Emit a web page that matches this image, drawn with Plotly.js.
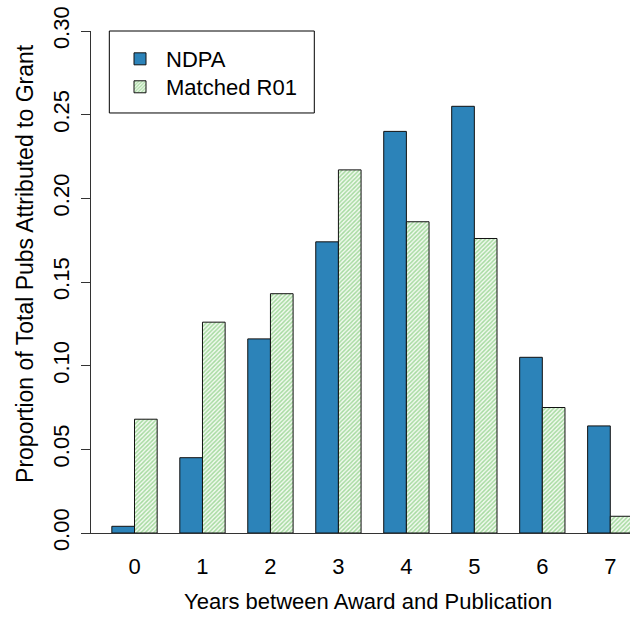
<!DOCTYPE html>
<html>
<head>
<meta charset="utf-8">
<script src="https://cdn.plot.ly/plotly-3.0.1.min.js"></script>
<style>html,body{margin:0;padding:0;background:#fff;}#chart{width:630px;height:617px;}</style>
</head>
<body>
<div id="chart"></div>
<script>
const years = [0, 1, 2, 3, 4, 5, 6, 7];
const ndpa = [0.004, 0.045, 0.116, 0.174, 0.240, 0.255, 0.105, 0.064];
const matchedR01 = [0.068, 0.126, 0.143, 0.217, 0.186, 0.176, 0.075, 0.010];
const seriesNames = ['NDPA', 'Matched R01'];
const yTicks = [0, 0.05, 0.10, 0.15, 0.20, 0.25, 0.30];
const yTickText = ['0.00', '0.05', '0.10', '0.15', '0.20', '0.25', '0.30'];
const xTitle = 'Years between Award and Publication';
const yTitle = 'Proportion of Total Pubs Attributed to Grant';

const FONT = 'Liberation Sans, Arial, sans-serif';

const traces = [
  {
    type: 'bar', x: years, y: ndpa, name: seriesNames[0], legend: 'legend',
    marker: {color: '#2c83b9', line: {color: '#111', width: 1}}
  },
  {
    type: 'bar', x: years, y: matchedR01, name: seriesNames[1], legend: 'legend2',
    marker: {
      color: '#ffffff',
      line: {color: '#111', width: 1},
      pattern: {shape: '/', fgcolor: '#a6daa0', bgcolor: '#f4fbf2', size: 3, solidity: 0.5}
    }
  }
];

const legendBase = {
  xanchor: 'left', yanchor: 'top',
  borderwidth: 0, bgcolor: 'rgba(0,0,0,0)',
  itemwidth: 42,
  font: {family: FONT, size: 22, color: '#000'}
};

const layout = {
  width: 630, height: 617,
  margin: {l: 91, r: 0, t: 31, b: 84, pad: 0},
  paper_bgcolor: '#fff', plot_bgcolor: '#fff',
  font: {family: FONT, size: 22, color: '#000'},
  barmode: 'group', bargap: 1/3, bargroupgap: 0,
  showlegend: true,
  legend: Object.assign({}, legendBase, {x: 0.0427, y: 0.986}),
  legend2: Object.assign({}, legendBase, {x: 0.0427, y: 0.9303}),
  shapes: [
    {type: 'rect', xref: 'paper', yref: 'paper', x0: 0.0340, x1: 0.4143, y0: 0.8367, y1: 1.0,
     line: {color: '#000', width: 1}, fillcolor: '#fff', layer: 'below'}
  ],
  annotations: [
    {text: xTitle, xref: 'paper', yref: 'paper', x: 0.514, y: -0.1355, xanchor: 'center', yanchor: 'middle',
     showarrow: false, font: {family: FONT, size: 22, color: '#000'}},
    {text: yTitle, xref: 'paper', yref: 'paper', x: -0.1224, y: 0.536, xanchor: 'center', yanchor: 'middle',
     textangle: -90, showarrow: false, font: {family: FONT, size: 23, color: '#000'}}
  ],
  xaxis: {
    range: [-0.64, 7.29],
    tickmode: 'array', tickvals: years, ticktext: years.map(String),
    showgrid: false, zeroline: false,
    showline: true, linecolor: '#333', linewidth: 1,
    ticks: '', ticklabelstandoff: 14,
    tickfont: {family: FONT, size: 22, color: '#000'}
  },
  yaxis: {
    range: [0, 0.30],
    tickmode: 'array', tickvals: yTicks, ticktext: yTickText,
    tickangle: -90,
    showgrid: false, zeroline: false,
    showline: true, linecolor: '#333', linewidth: 1,
    ticks: 'outside', ticklen: 9, tickcolor: '#333', tickwidth: 1,
    ticklabelstandoff: 3,
    tickfont: {family: FONT, size: 22, color: '#000'}
  }
};

Plotly.newPlot('chart', traces, layout, {displayModeBar: false, responsive: false});
</script>
</body>
</html>
